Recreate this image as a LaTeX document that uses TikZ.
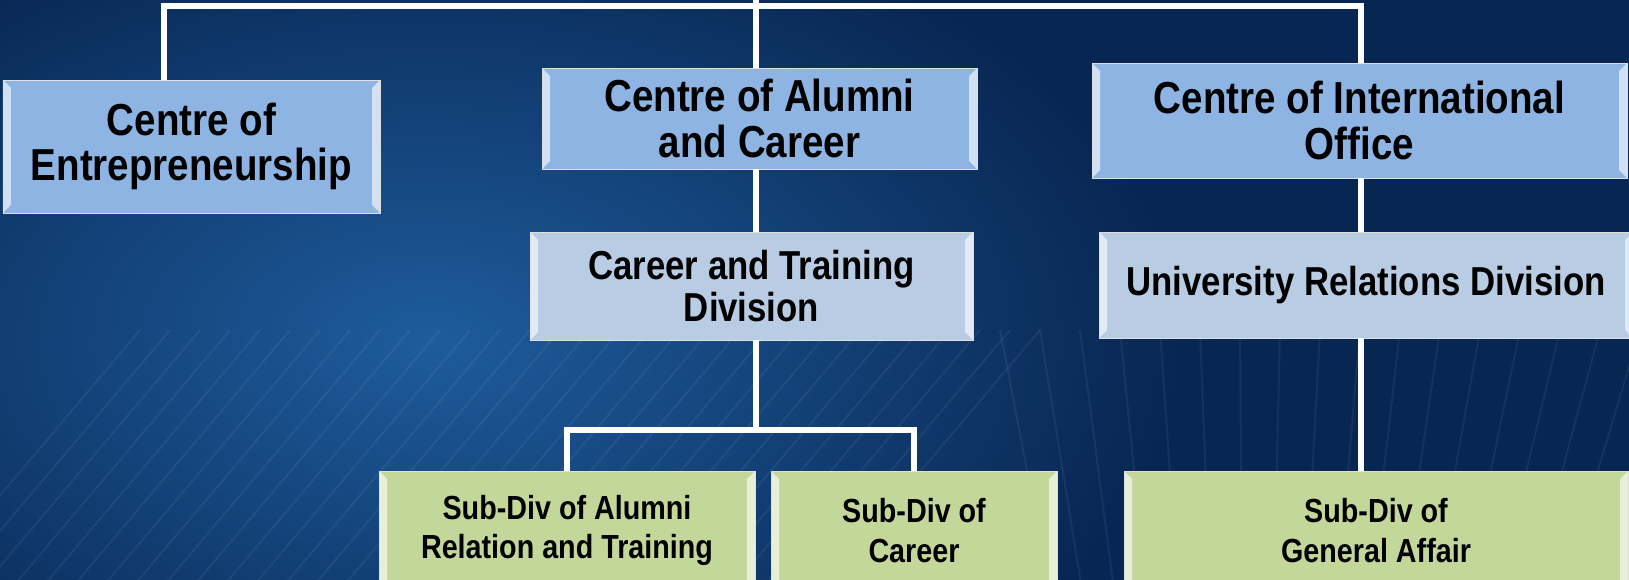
\documentclass[tikz,border=0pt]{standalone}
\usepackage{fontspec}
\setmainfont{Liberation Sans}[FakeStretch=0.86]
\usetikzlibrary{positioning}

\definecolor{bgdark}{RGB}{8,38,82}
\definecolor{bglight}{RGB}{30,92,156}
\definecolor{centreblue}{RGB}{141,180,226}
\definecolor{divblue}{RGB}{184,204,228}
\definecolor{subgreen}{RGB}{196,215,155}

\begin{document}
\begin{tikzpicture}[x=0.2mm,y=-0.2mm,line width=1.1mm,
	box/.style={draw=white!75!gray,line width=0.4pt,align=center,inner sep=0pt,
		path picture={
			\fill[white,opacity=.6] (path picture bounding box.south west) -- (path picture bounding box.north west)
				-- ([shift={(1.6mm,-1.6mm)}]path picture bounding box.north west)
				-- ([shift={(1.6mm,1.6mm)}]path picture bounding box.south west) -- cycle;
			\fill[white,opacity=.6] (path picture bounding box.south east) -- (path picture bounding box.north east)
				-- ([shift={(-1.6mm,-1.6mm)}]path picture bounding box.north east)
				-- ([shift={(-1.6mm,1.6mm)}]path picture bounding box.south east) -- cycle;
		}},
	centre node/.style={box,fill=centreblue,font=\bfseries\fontsize{25.5}{26}\selectfont},
	div node/.style={box,fill=divblue,font=\bfseries\fontsize{23}{23.5}\selectfont},
	sub node/.style={box,fill=subgreen,font=\bfseries\fontsize{19}{22.5}\selectfont}]

	\useasboundingbox (0,0) rectangle (1629,580);
	\clip (0,0) rectangle (1629,580);
	\fill[bgdark] (0,0) rectangle (1629,580);
	\shade[inner color=bglight,outer color=bgdark] (430,340) ellipse (150mm and 90mm);
	% faint mesh
	\foreach \i in {0,...,30}
		\draw[white,opacity=.06,line width=.4mm] (\i*30-80,590) -- (\i*30+140,330);
	\foreach \i in {0,...,18}
		\draw[white,opacity=.06,line width=.4mm] (1050+\i*32,590) -- (1000+\i*40,330);

	\node[centre node,minimum width=75.4mm,minimum height=26.6mm] (1) at (191.5,146.5) {Centre of\\Entrepreneurship};
	\node[centre node,minimum width=87mm,minimum height=20.2mm] (2) at (759.5,118.5) {Centre of Alumni\\and Career};
	\node[centre node,minimum width=107mm,minimum height=23mm] (3) at (1359.5,120.5) {Centre of International\\Office};
	\node[div node,minimum width=88.6mm,minimum height=21.6mm] (4) at (751.5,286) {Career and Training\\Division};
	\node[div node,minimum width=106.8mm,minimum height=21.2mm] (5) at (1366,285) {University Relations Division};
	\node[sub node,minimum width=75.2mm,minimum height=23.8mm] (6) at (567,530.5) {Sub-Div of Alumni\\Relation and Training};
	\node[sub node,minimum width=57.2mm,minimum height=23.8mm] (7) at (914,530.5) {Sub-Div of\\Career};
	\node[sub node,minimum width=100.8mm,minimum height=23.8mm] (8) at (1376,530.5) {Sub-Div of\\General Affair};

	\coordinate (top) at (756,0);
	\coordinate (busL) at (164,6);
	\coordinate (busR) at (1361,6);
	\coordinate (fork) at (756,430);

	\path[draw=white]
		(busL |- 1.north) -- (busL) -- (busR) -- (busR |- 3.north)
		(top) -- (top |- 2.north)
		(top |- 2.south) -- (top |- 4.north)
		(top |- 4.south) -- (fork)
		(6) |- (fork) -| (7)
		(busR |- 3.south) -- (busR |- 5.north)
		(busR |- 5.south) -- (busR |- 8.north);
\end{tikzpicture}
\end{document}
